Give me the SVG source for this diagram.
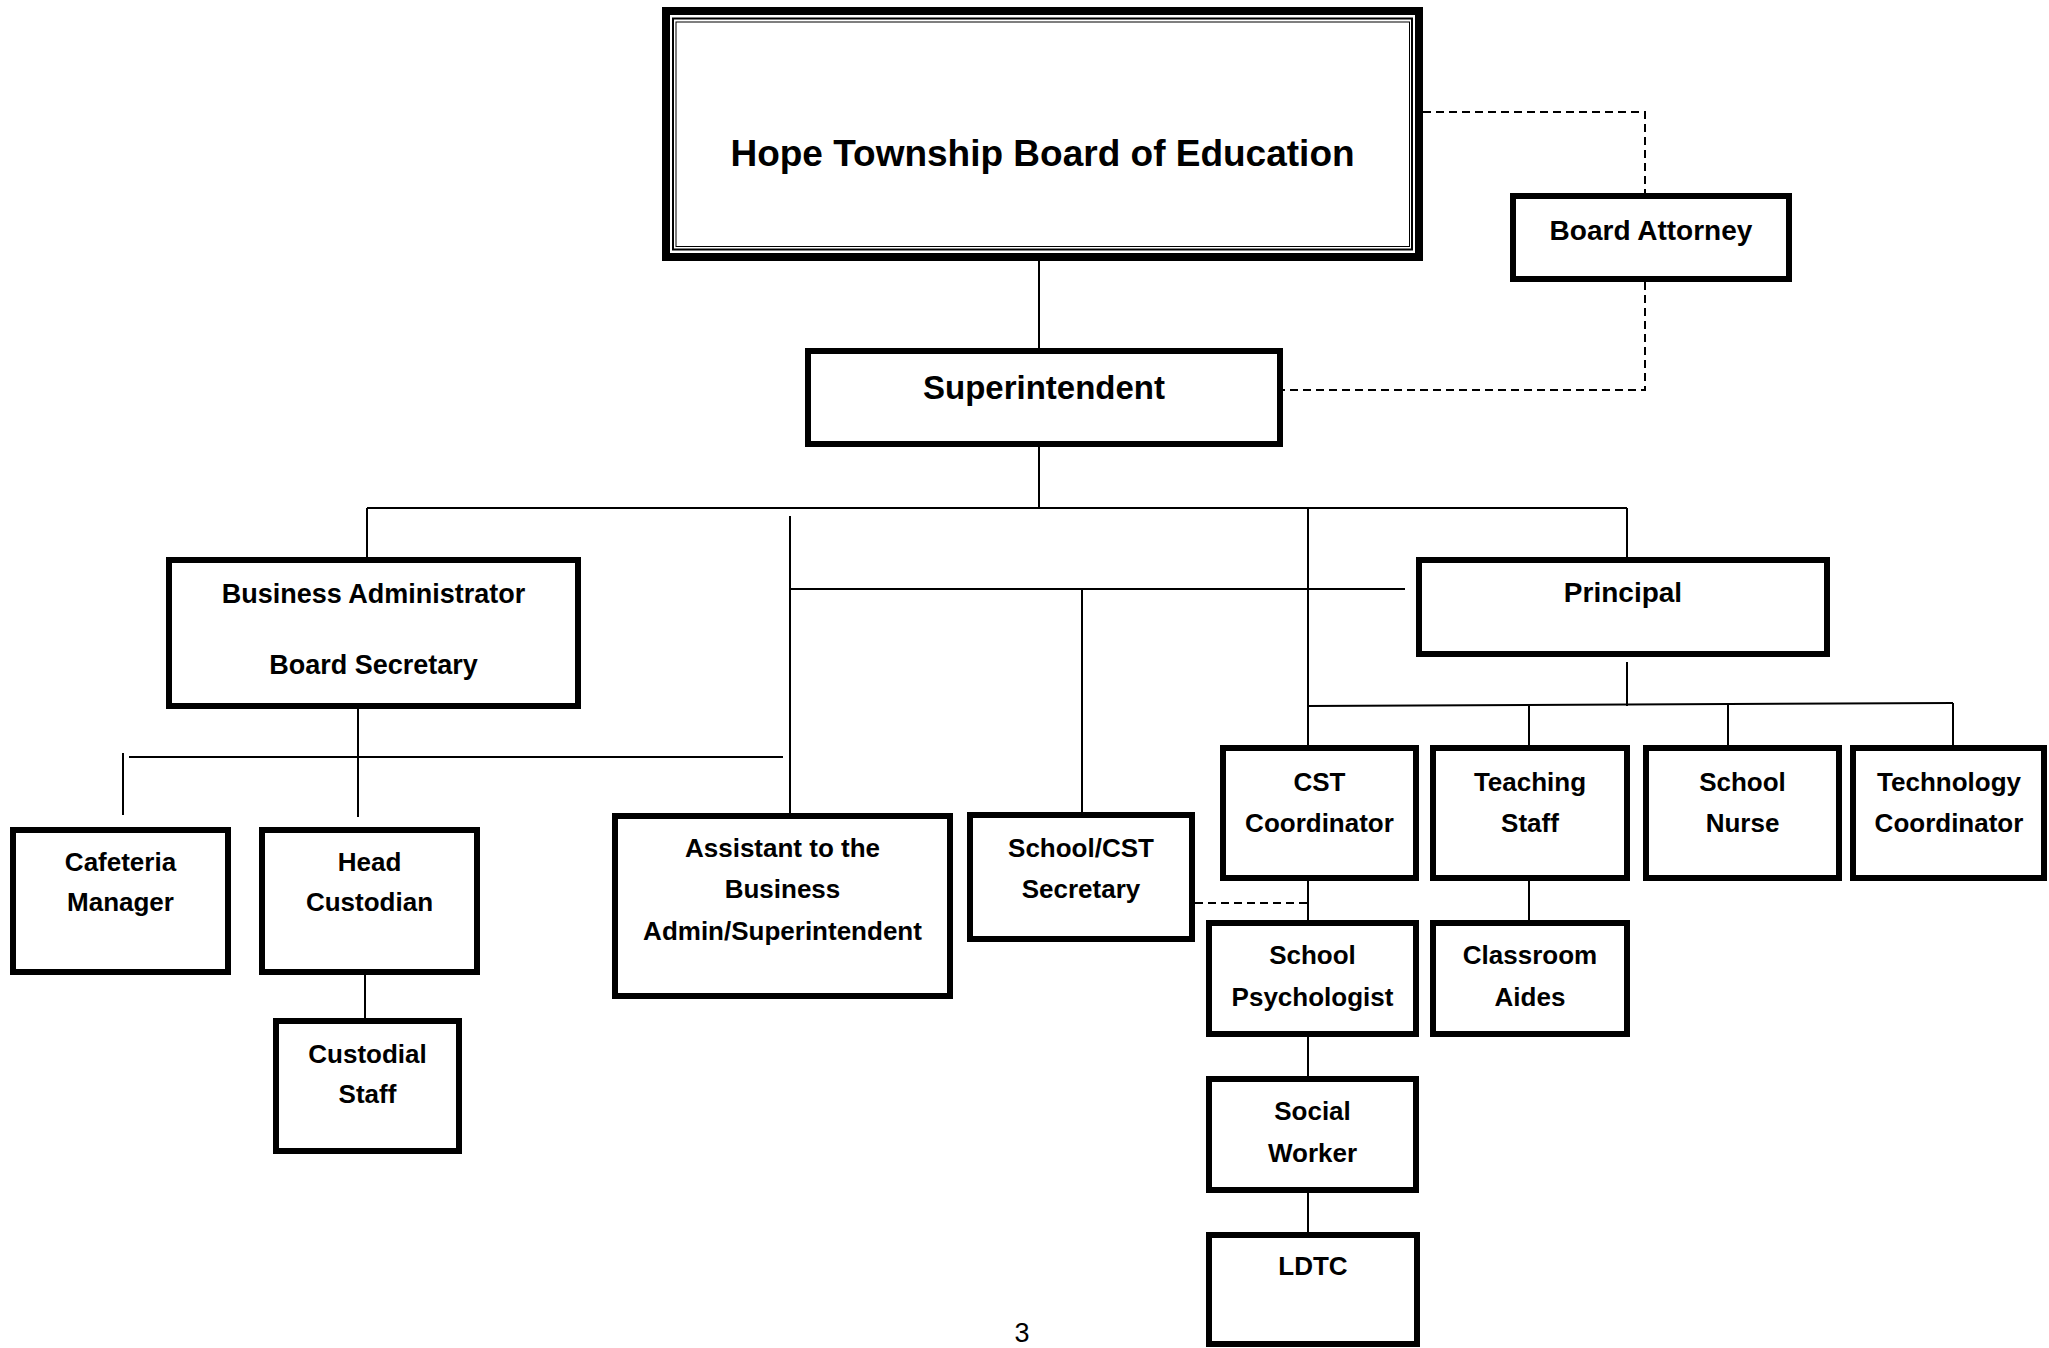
<svg xmlns="http://www.w3.org/2000/svg" width="2049" height="1348" viewBox="0 0 2049 1348">
<style>
.box{fill:#fff;stroke:#000;stroke-width:6}
.t{font-family:"Liberation Sans",Arial,sans-serif;font-weight:bold;text-anchor:middle;fill:#000}
.s26{font-size:26px}
.s27{font-size:27px}
.ln{stroke:#000;stroke-width:2;fill:none}
.dash{stroke:#000;stroke-width:2;fill:none;stroke-dasharray:8 5}
</style>
<rect width="2049" height="1348" fill="#fff"/>
<g id="connectors">
<path class="ln" d="M1039 261V348"/>
<path class="ln" d="M1039 447V508"/>
<path class="ln" d="M367 508H1627"/>
<path class="ln" d="M367 508V557"/>
<path class="ln" d="M1627 508V557"/>
<path class="ln" d="M1308 508V745"/>
<path class="ln" d="M790 516V823"/>
<path class="ln" d="M790 589H1405"/>
<path class="ln" d="M1082 589V819"/>
<path class="ln" d="M358 709V817"/>
<path class="ln" d="M129 757H783"/>
<path class="ln" d="M123 753V815"/>
<path class="ln" d="M365 975V1018"/>
<path class="ln" d="M1627 662V706"/>
<path class="ln" d="M1308 706L1953 703"/>
<path class="ln" d="M1529 706V745"/>
<path class="ln" d="M1728 705V745"/>
<path class="ln" d="M1953 703V745"/>
<path class="ln" d="M1308 881V920"/>
<path class="ln" d="M1308 1037V1076"/>
<path class="ln" d="M1308 1193V1232"/>
<path class="ln" d="M1529 881V920"/>
<path class="dash" d="M1195 903H1308"/>
<path class="dash" d="M1423 112H1645V193"/>
<path class="dash" d="M1645 282V390H1283"/>
</g>
<g id="board">
<rect x="666" y="11" width="753" height="246" fill="#fff" stroke="#000" stroke-width="8"/>
<rect x="673" y="18.5" width="739" height="231" fill="none" stroke="#000" stroke-width="2"/>
<rect x="676" y="22" width="733.5" height="224.5" fill="none" stroke="#000" stroke-width="1"/>
<text class="t" x="1042.5" y="166" font-size="37">Hope Township Board of Education</text>
</g>
<g id="superintendent">
<rect class="box" x="808" y="351" width="472" height="93"/>
<text class="t" x="1044" y="399" font-size="33">Superintendent</text>
</g>
<g id="board-attorney">
<rect class="box" x="1513" y="196" width="276" height="83"/>
<text class="t" x="1651" y="240" font-size="28">Board Attorney</text>
</g>
<g id="business-administrator">
<rect class="box" x="169" y="560" width="409" height="146"/>
<text class="t s27" x="373.5" y="603">Business Administrator</text>
<text class="t s27" x="373.5" y="674">Board Secretary</text>
</g>
<g id="principal">
<rect class="box" x="1419" y="560" width="408" height="94"/>
<text class="t" x="1623" y="602" font-size="28">Principal</text>
</g>
<g id="cafeteria-manager">
<rect class="box" x="13" y="830" width="215" height="142"/>
<text class="t s26" x="120.5" y="871">Cafeteria</text>
<text class="t s26" x="120.5" y="911">Manager</text>
</g>
<g id="head-custodian">
<rect class="box" x="262" y="830" width="215" height="142"/>
<text class="t s26" x="369.5" y="871">Head</text>
<text class="t s26" x="369.5" y="911">Custodian</text>
</g>
<g id="custodial-staff">
<rect class="box" x="276" y="1021" width="183" height="130"/>
<text class="t s26" x="367.5" y="1063">Custodial</text>
<text class="t s26" x="367.5" y="1103">Staff</text>
</g>
<g id="assistant">
<rect class="box" x="615" y="816" width="335" height="180"/>
<text class="t s26" x="782.5" y="857">Assistant to the</text>
<text class="t s26" x="782.5" y="898">Business</text>
<text class="t s26" x="782.5" y="940">Admin/Superintendent</text>
</g>
<g id="school-cst-secretary">
<rect class="box" x="970" y="815" width="222" height="124"/>
<text class="t s26" x="1081" y="857">School/CST</text>
<text class="t s26" x="1081" y="898">Secretary</text>
</g>
<g id="cst-coordinator">
<rect class="box" x="1223" y="748" width="193" height="130"/>
<text class="t s26" x="1319.5" y="791">CST</text>
<text class="t s26" x="1319.5" y="832">Coordinator</text>
</g>
<g id="teaching-staff">
<rect class="box" x="1433" y="748" width="194" height="130"/>
<text class="t s26" x="1530" y="791">Teaching</text>
<text class="t s26" x="1530" y="832">Staff</text>
</g>
<g id="school-nurse">
<rect class="box" x="1646" y="748" width="193" height="130"/>
<text class="t s26" x="1742.5" y="791">School</text>
<text class="t s26" x="1742.5" y="832">Nurse</text>
</g>
<g id="technology-coordinator">
<rect class="box" x="1853" y="748" width="191" height="130"/>
<text class="t s26" x="1949" y="791">Technology</text>
<text class="t s26" x="1949" y="832">Coordinator</text>
</g>
<g id="school-psychologist">
<rect class="box" x="1209" y="923" width="207" height="111"/>
<text class="t s26" x="1312.5" y="964">School</text>
<text class="t s26" x="1312.5" y="1006">Psychologist</text>
</g>
<g id="classroom-aides">
<rect class="box" x="1433" y="923" width="194" height="111"/>
<text class="t s26" x="1530" y="964">Classroom</text>
<text class="t s26" x="1530" y="1006">Aides</text>
</g>
<g id="social-worker">
<rect class="box" x="1209" y="1079" width="207" height="111"/>
<text class="t s26" x="1312.5" y="1120">Social</text>
<text class="t s26" x="1312.5" y="1162">Worker</text>
</g>
<g id="ldtc">
<rect class="box" x="1209" y="1235" width="208" height="109"/>
<text class="t s26" x="1313" y="1275">LDTC</text>
</g>
<text x="1022" y="1342" font-family="Liberation Sans,Arial,sans-serif" font-size="27" text-anchor="middle" fill="#000">3</text>
</svg>
